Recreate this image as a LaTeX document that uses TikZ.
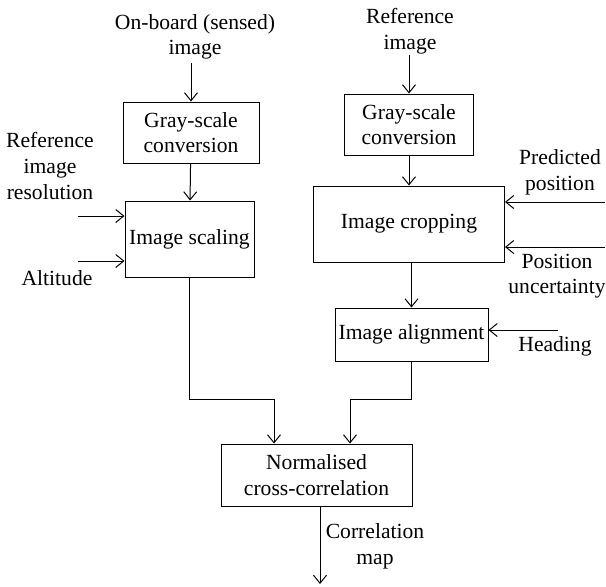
\documentclass[tikz,border=0pt]{standalone}
\usepackage{fontspec}
\setmainfont{Liberation Serif}
\usetikzlibrary{arrows.meta}
\begin{document}
\begin{tikzpicture}[x=0.5pt, y=-0.5pt,
		main/.style = {draw, line width=0.5pt, inner sep=0pt, align=center, font=\fontsize{10.8}{12.8}\selectfont},
		txt/.style = {inner sep=0pt, align=center, font=\fontsize{10.8}{12.8}\selectfont},
		arr/.style = {line width=0.5pt, -{Straight Barb[length=4pt, width=6.5pt]}}]
		\useasboundingbox (0,0) rectangle (606,586);
		\node[main, minimum width=68pt, minimum height=30.5pt] (1) at (191,132.5) {Gray-scale\\conversion};
		\node[main, minimum width=64.5pt, minimum height=38pt] (2) at (189.5,239) {Image scaling};
		\node[main, minimum width=64.5pt, minimum height=30.5pt] (3) at (409,124.5) {Gray-scale\\conversion};
		\node[main, minimum width=95.5pt, minimum height=38pt] (4) at (409,224) {Image cropping};
		\node[main, minimum width=76.5pt, minimum height=26.5pt] (5) at (411.5,334.5) {Image alignment};
		\node[main, minimum width=95.5pt, minimum height=31pt] (6) at (316.5,475) {Normalised\\cross-correlation};
		\node[txt] (t1) at (195,37) {On-board (sensed)\\image};
		\node[txt] (t2) at (410,31) {Reference\\image};
		\node[txt] (t3) at (50,166) {Reference\\image\\resolution};
		\node[txt] (t4) at (57,278) {Altitude};
		\node[txt] (t5) at (560,172) {Predicted\\position};
		\node[txt] (t6) at (557,276) {Position\\uncertainty};
		\node[txt] (t7) at (555,346) {Heading};
		\node[txt] (t8) at (375,546) {Correlation\\map};
		\coordinate (a1) at (191,63);
		\coordinate (a2) at (409,55);
		\coordinate (a3) at (78,216);
		\coordinate (a4) at (78,261);
		\coordinate (a5) at (605,202);
		\coordinate (a6) at (605,247);
		\coordinate (a7) at (558,330);
		\coordinate (j1) at (274,399);
		\coordinate (j2) at (350,399);
		\coordinate (a8) at (320,584);
		\draw[arr] (a1) -- (1);
		\draw[arr] (1) -- (2);
		\draw[arr] (a2) -- (3);
		\draw[arr] (3) -- (4);
		\draw[arr] (4.south -| 5) -- (5);
		\draw[arr] (a3) -- (a3 -| 2.west);
		\draw[arr] (a4) -- (a4 -| 2.west);
		\draw[arr] (a5) -- (a5 -| 4.east);
		\draw[arr] (a6) -- (a6 -| 4.east);
		\draw[arr] (a7) -- (a7 -| 5.east);
		\draw[arr] (2.south) |- (j1) -- (j1 |- 6.north);
		\draw[arr] (5.south) |- (j2) -- (j2 |- 6.north);
		\draw[arr] (a8 |- 6.south) -- (a8);
	\end{tikzpicture}
\end{document}
